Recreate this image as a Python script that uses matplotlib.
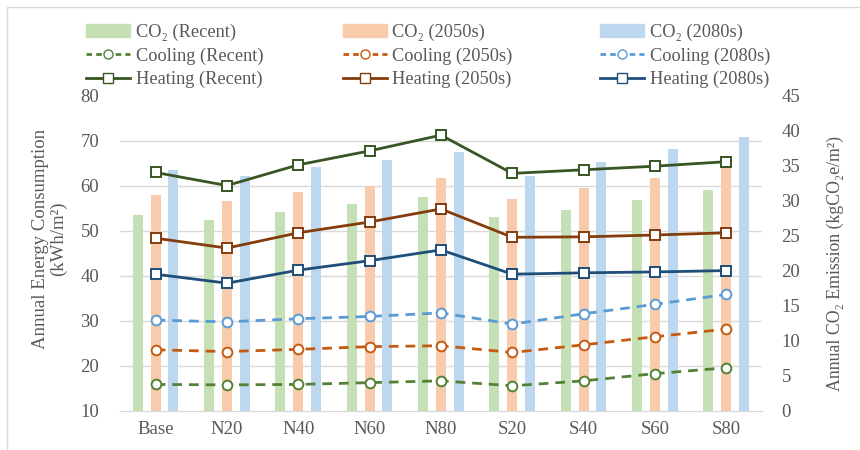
import numpy as np
import matplotlib
matplotlib.use('Agg')
import matplotlib.pyplot as plt
from matplotlib.lines import Line2D
from matplotlib.patches import Patch, Rectangle

plt.rcParams['font.family'] = ['Liberation Serif', 'DejaVu Serif']
plt.rcParams['font.size'] = 11

cases = ['Base', 'N20', 'N40', 'N60', 'N80', 'S20', 'S40', 'S60', 'S80']

# CO2 emission (kgCO2e/m2), right axis
co2_recent = [28.0, 27.3, 28.4, 29.5, 30.6, 27.7, 28.7, 30.2, 31.6]
co2_2050s = [30.9, 30.0, 31.3, 32.2, 33.3, 30.3, 31.9, 33.3, 35.1]
co2_2080s = [34.4, 33.6, 34.8, 35.9, 37.0, 33.6, 35.5, 37.4, 39.2]

# energy consumption (kWh/m2), left axis
cool_recent = [15.9, 15.8, 15.9, 16.3, 16.7, 15.6, 16.7, 18.3, 19.6]
cool_2050s = [23.6, 23.2, 23.7, 24.3, 24.5, 23.0, 24.7, 26.5, 28.2]
cool_2080s = [30.2, 29.8, 30.5, 31.0, 31.8, 29.3, 31.6, 33.7, 35.9]
heat_recent = [63.0, 60.1, 64.7, 67.8, 71.3, 62.8, 63.6, 64.4, 65.4]
heat_2050s = [48.4, 46.2, 49.6, 52.0, 54.9, 48.6, 48.7, 49.1, 49.6]
heat_2080s = [40.4, 38.4, 41.3, 43.4, 45.8, 40.4, 40.7, 40.9, 41.2]

periods = ['Recent', '2050s', '2080s']
bar_cols = ['#c5e0b4', '#f8cbad', '#bdd7ee']
cool_cols = ['#548235', '#c55a11', '#5b9bd5']
heat_cols = ['#375623', '#843c0c', '#1f4e79']
txt = '#595959'

fig = plt.figure(figsize=(8.6, 4.5), dpi=100)
ax = fig.add_axes([0.1395, 0.0867, 0.7465, 0.70])
ax2 = ax.twinx()

x = np.arange(len(cases))
w = 0.14
off = 0.25
for i, vals in enumerate([co2_recent, co2_2050s, co2_2080s]):
    ax2.bar(x + (i - 1) * off, vals, width=w, color=bar_cols[i], zorder=2)

ax2.set_ylim(0, 45)
ax2.set_yticks(np.arange(0, 46, 5))
# gridlines at the left-axis values, drawn under the bars
left_ticks = np.arange(10, 81, 10)
ax2.set_yticks((left_ticks - 10) * 45 / 70, minor=True)
ax2.tick_params(axis='y', which='minor', length=0)
ax2.grid(which='minor', axis='y', color='#d9d9d9', lw=1, zorder=0)
ax2.set_ylabel('Annual CO\u2082 Emission (kgCO\u2082e/m\u00b2)', color=txt, fontsize=12.8)
ax2.yaxis.set_label_coords(1.101, 0.467)

for i, vals in enumerate([cool_recent, cool_2050s, cool_2080s]):
    ax.plot(x, vals, color=cool_cols[i], lw=2, ls=(0, (3.5, 2.5)), marker='o',
            ms=7, mfc='white', mec=cool_cols[i], mew=1.4)
for i, vals in enumerate([heat_recent, heat_2050s, heat_2080s]):
    ax.plot(x, vals, color=heat_cols[i], lw=2, marker='s',
            ms=7, mfc='white', mec=heat_cols[i], mew=1.4)

ax.set_zorder(ax2.get_zorder() + 1)
ax.patch.set_visible(False)
ax.set_ylim(10, 80)
ax.set_yticks(left_ticks)
ax.set_xlim(-0.5, len(cases) - 0.5)
ax.set_xticks(x)
ax.set_xticklabels(cases)
ax.set_ylabel('Annual Energy Consumption\n(kWh/m\u00b2)', color=txt,
              fontsize=13.5, linespacing=1.0)
ax.yaxis.set_label_coords(-0.083, 0.546)

for a in (ax, ax2):
    for s in ['top', 'left', 'right']:
        a.spines[s].set_visible(False)
    a.spines['bottom'].set_color('#d9d9d9')
    a.tick_params(length=0, colors=txt, labelsize=13.5)
ax.tick_params(axis='x', pad=7)
ax.tick_params(axis='y', pad=15)
ax2.tick_params(axis='y', pad=14)

# one legend column per period, placed like the original
leg_x = [86, 343, 600]
for i, p in enumerate(periods):
    handles = [Patch(color=bar_cols[i]),
               Line2D([], [], color=cool_cols[i], lw=2, ls=(0, (2, 1.5)), marker='o',
                      ms=6.5, mfc='white', mec=cool_cols[i]),
               Line2D([], [], color=heat_cols[i], lw=2, marker='s',
                      ms=6.5, mfc='white', mec=heat_cols[i])]
    labels = ['CO\u2082 (%s)' % p, 'Cooling (%s)' % p, 'Heating (%s)' % p]
    leg = fig.legend(handles, labels, loc='upper left',
                     bbox_to_anchor=(leg_x[i] / 860, 1 - 24 / 450),
                     frameon=False, borderpad=0, borderaxespad=0,
                     handlelength=2.4, handletextpad=0.3, labelspacing=0.34,
                     fontsize=13.2)
    for t in leg.get_texts():
        t.set_color(txt)

fig.patches.append(Rectangle((7 / 860, -0.02), 1.1, 1.0044, transform=fig.transFigure,
                             fill=False, edgecolor='#d9d9d9', lw=1))

fig.savefig('out.png', dpi=100)
